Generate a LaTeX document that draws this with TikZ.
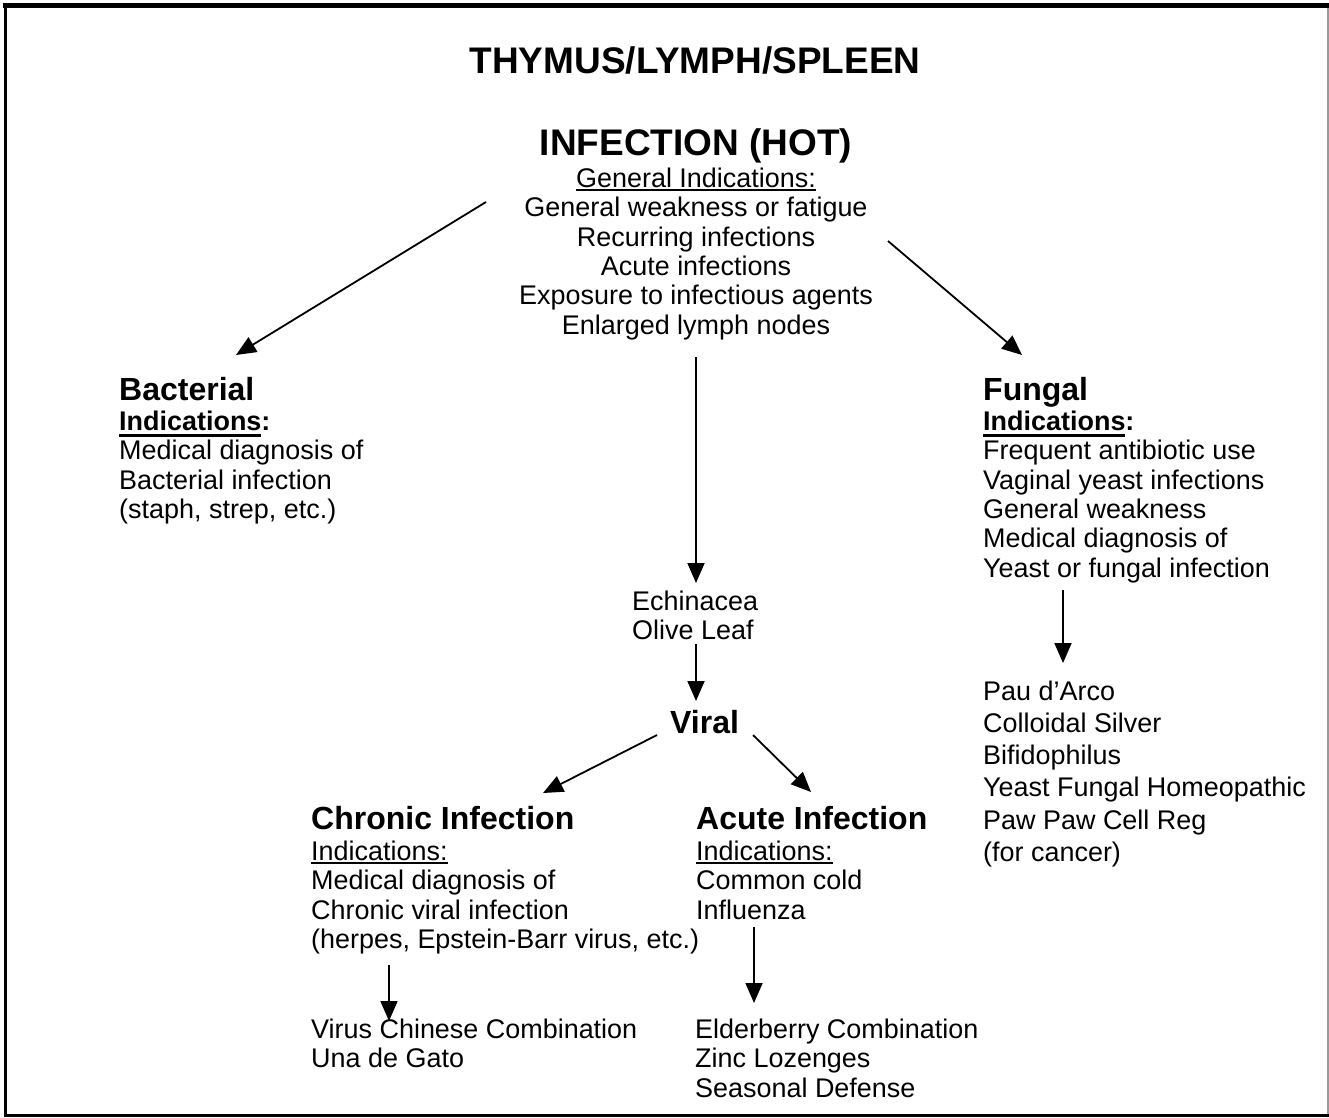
\documentclass[tikz,border=0pt]{standalone}
\usepackage{fontspec}
\setmainfont{Liberation Sans}
\usetikzlibrary{arrows.meta}
\newcommand\ulin[1]{\setbox0\hbox{#1}\rlap{\rule[-4pt]{\wd0}{2pt}}\box0}
\newcommand\ulinb[1]{\setbox0\hbox{#1}\rlap{\rule[-6.8pt]{\wd0}{3.2pt}}\box0}
\newcommand\fs{\rule{0pt}{20pt}}
\tikzset{
  body/.style={font=\fontsize{26.95}{29.4}\selectfont, inner sep=0pt, align=left, anchor=north west},
  remedy/.style={body, font=\fontsize{26.95}{32.2}\selectfont},
  head/.style={font=\bfseries\fontsize{32}{35}\selectfont, inner sep=0pt, anchor=base west},
  big/.style={font=\bfseries\fontsize{37}{40}\selectfont, inner sep=0pt, anchor=base},
  arr/.style={-{Triangle[length=20pt,width=17pt]}, line width=1.8pt},
}
\begin{document}
\begin{tikzpicture}[x=1pt,y=-1pt]
\useasboundingbox (0,0) rectangle (1329,1117);
\fill[white] (0,0) rectangle (1329,1117);
% frame
\draw[line width=1.5pt, black!40] (1328.2,3) -- (1328.2,1116);
\draw[line width=2.7pt] (5.3,3) -- (5.3,1115.6) -- (1329,1115.6);
\draw[line width=5.3pt] (3,5.6) -- (1329,5.6);

% texts
\node[big] (title) at (695,73) {THYMUS/LYMPH/SPLEEN};
\node[big] (infect) at (696,155) {INFECTION (HOT)};
\node[body, align=center, anchor=north] (gen) at (696,167)
  {\fs\ulin{General Indications:}\\General weakness or fatigue\\Recurring infections\\Acute infections\\Exposure to infectious agents\\Enlarged lymph nodes};

\node[head] (bactH) at (119,400) {Bacterial};
\node[body] (bactB) at (119,410)
  {\fs\textbf{\ulinb{Indications}:}\\Medical diagnosis of\\Bacterial infection\\(staph, strep, etc.)};

\node[head] (fungH) at (983,400) {Fungal};
\node[body] (fungB) at (983,410)
  {\fs\textbf{\ulinb{Indications}:}\\Frequent antibiotic use\\Vaginal yeast infections\\General weakness\\Medical diagnosis of\\Yeast or fungal infection};
\node[remedy] (fungR) at (983,680)
  {\fs Pau d’Arco\\Colloidal Silver\\Bifidophilus\\Yeast Fungal Homeopathic\\Paw Paw Cell Reg\\(for cancer)};

\node[body] (echi) at (632,590) {\fs Echinacea\\Olive Leaf};
\node[head] (viral) at (670,733) {Viral};

\node[head] (chronH) at (311,829) {Chronic Infection};
\node[body] (chronB) at (311,840)
  {\fs\ulin{Indications:}\\Medical diagnosis of\\Chronic viral infection\\(herpes, Epstein-Barr virus, etc.)};
\node[body] (chronR) at (311,1018) {\fs Virus Chinese Combination\\Una de Gato};

\node[head] (acuteH) at (696,829) {Acute Infection};
\node[body] (acuteB) at (696,840) {\fs\ulin{Indications:}\\Common cold\\Influenza};
\node[body] (acuteR) at (695,1018) {\fs Elderberry Combination\\Zinc Lozenges\\Seasonal Defense};

% connector ends
\coordinate (genL) at (486,202);   \coordinate (bactT) at (236,355);
\coordinate (genR) at (888,241);   \coordinate (fungT) at (1022,355);
\coordinate (genS) at (696,357);   \coordinate (echiT) at (696,583);
\coordinate (echiS) at (696,644);  \coordinate (viralT) at (696,701);
\coordinate (viralL) at (657,735); \coordinate (chronT) at (543,793);
\coordinate (viralR) at (753,735); \coordinate (acuteT) at (811,792);
\coordinate (fungS) at (1063,590); \coordinate (fungRT) at (1063,663);
\coordinate (chronS) at (389,965); \coordinate (chronRT) at (389,1021);
\coordinate (acuteS) at (754,927); \coordinate (acuteRT) at (754,1003);

\draw[arr] (genL) -- (bactT);
\draw[arr] (genR) -- (fungT);
\draw[arr] (genS) -- (echiT);
\draw[arr] (echiS) -- (viralT);
\draw[arr] (viralL) -- (chronT);
\draw[arr] (viralR) -- (acuteT);
\draw[arr] (fungS) -- (fungRT);
\draw[arr] (chronS) -- (chronRT);
\draw[arr] (acuteS) -- (acuteRT);
\end{tikzpicture}
\end{document}
